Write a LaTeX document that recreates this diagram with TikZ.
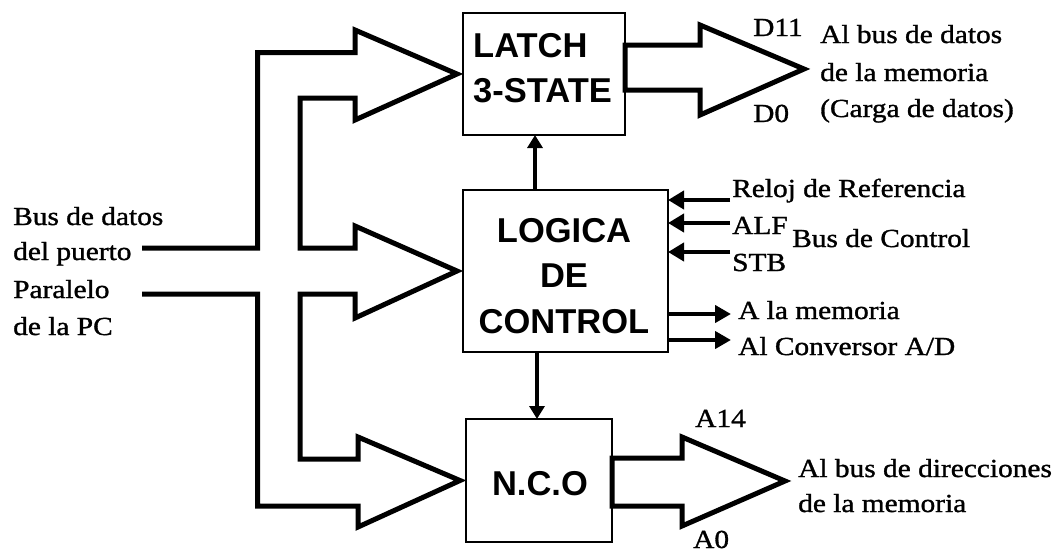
\documentclass[tikz,border=0pt]{standalone}
\usepackage{fontspec}
\setmainfont{Liberation Serif}
\newfontfamily\lblfont[FakeStretch=1.13,FakeBold=1.2]{Liberation Serif}
\newfontfamily\blkfont{Liberation Sans}
\usetikzlibrary{arrows.meta,calc}
\begin{document}
\begin{tikzpicture}[x=1pt,y=-1pt,
  blk/.style={draw, line width=2.8pt, inner sep=0pt, outer sep=0pt},
  blktxt/.style={inner sep=0pt, font=\blkfont\bfseries\fontsize{34.5}{40}\selectfont},
  lab/.style={inner sep=0pt, anchor=base west, font=\lblfont\fontsize{26}{30}\selectfont},
  bus/.style={draw, line width=5pt, line join=miter},
  ctlin/.style={draw, line width=4.5pt, -{Triangle[length=16pt,width=18pt]}},
  ctlout/.style={draw, line width=4.5pt, -{Triangle[length=16pt,width=17pt]}},
  vlink/.style={draw, line width=4pt, -{Triangle[length=13pt,width=15pt]}}]
\useasboundingbox (0,0) rectangle (1056,552);
\fill[white] (0,0) rectangle (1056,552);

% blocks
\node[blk, minimum width=162pt, minimum height=122pt] (latch) at (544,74) {};
\node[blk, minimum width=205pt, minimum height=162pt] (logica) at (565.5,271) {};
\node[blk, minimum width=146pt, minimum height=123pt] (nco) at (539,480.5) {};

% block texts
\node[blktxt, anchor=base west] (tlatch) at (473,57) {LATCH};
\node[blktxt, anchor=base west] (tstate) at (473,102) {3-STATE};
\node[blktxt, anchor=base] (tlog) at (564,242) {LOGICA};
\node[blktxt, anchor=base] (tde) at (564,287) {DE};
\node[blktxt, anchor=base] (tctl) at (564,333) {CONTROL};
\node[blktxt, anchor=base] (tnco) at (540,495) {N.C.O};

% input bus from the PC port
\coordinate (inA) at (142,248);
\coordinate (inB) at (142,294);
\draw[bus] (inA) -- (257.5,248) -- (257.5,52.5) -- (355,52.5) -- (355,30)
  -- ($(latch.west)+(-6,0)$) -- (355,120) -- (355,98) -- (300,98)
  -- (300,248) -- (355,248) -- (355,226) -- ($(logica.west)+(-6,0)$)
  -- (355,318) -- (355,294) -- (300,294) -- (300,459) -- (358,459)
  -- (358,437) -- ($(nco.west)+(-6,0)$) -- (358,527) -- (358,506)
  -- (257.5,506) -- (257.5,294) -- (inB);

% output buses
\draw[bus] (latch.east |- 0,45) -- (700,45) -- (700,25) -- (804,69)
  -- (700,115) -- (700,90) -- (latch.east |- 0,90) -- cycle;
\draw[bus] (nco.east |- 0,458) -- (682,458) -- (682,437) -- (785,481)
  -- (682,526) -- (682,506) -- (nco.east |- 0,506) -- cycle;

% vertical links
\coordinate (vx1) at (535,0);
\coordinate (vx2) at (537,0);
\draw[vlink] (logica.north -| vx1) -- (latch.south -| vx1);
\draw[vlink] (logica.south -| vx2) -- (nco.north -| vx2);

% control inputs
\coordinate (cReloj) at (730,200);
\coordinate (cAlf) at (730,223);
\coordinate (cStb) at (730,252);
\draw[ctlin] (cReloj) -- (cReloj -| logica.east);
\draw[ctlin] (cAlf) -- (cAlf -| logica.east);
\draw[ctlin] (cStb) -- (cStb -| logica.east);

% control outputs
\coordinate (oMem) at (731,314);
\coordinate (oAD) at (731,340);
\draw[ctlout] (oMem -| logica.east) -- (oMem);
\draw[ctlout] (oAD -| logica.east) -- (oAD);

% left labels
\node[lab] (l1) at (13,225) {Bus de datos};
\node[lab] (l2) at (13,260) {del puerto};
\node[lab] (l3) at (13,298) {Paralelo};
\node[lab] (l4) at (13,335) {de la PC};

% top right labels
\node[lab] (d11) at (753,36) {D11};
\node[lab] (d0) at (753,122) {D0};
\node[lab] (r1) at (820,43) {Al bus de datos};
\node[lab] (r2) at (820,81) {de la memoria};
\node[lab] (r3) at (820,117) {(Carga de datos)};

% control labels
\node[lab] (reloj) at (732,197) {Reloj de Referencia};
\node[lab] (alf) at (732,234) {ALF};
\node[lab] (busc) at (792,247) {Bus de Control};
\node[lab] (stb) at (732,271) {STB};
\node[lab] (amem) at (738,319) {A la memoria};
\node[lab] (aconv) at (738,355) {Al Conversor A/D};

% bottom right labels
\node[lab] (a14) at (695,427) {A14};
\node[lab] (a0) at (693,548) {A0};
\node[lab] (b1) at (798,477) {Al bus de direcciones};
\node[lab] (b2) at (798,512) {de la memoria};
\end{tikzpicture}
\end{document}
